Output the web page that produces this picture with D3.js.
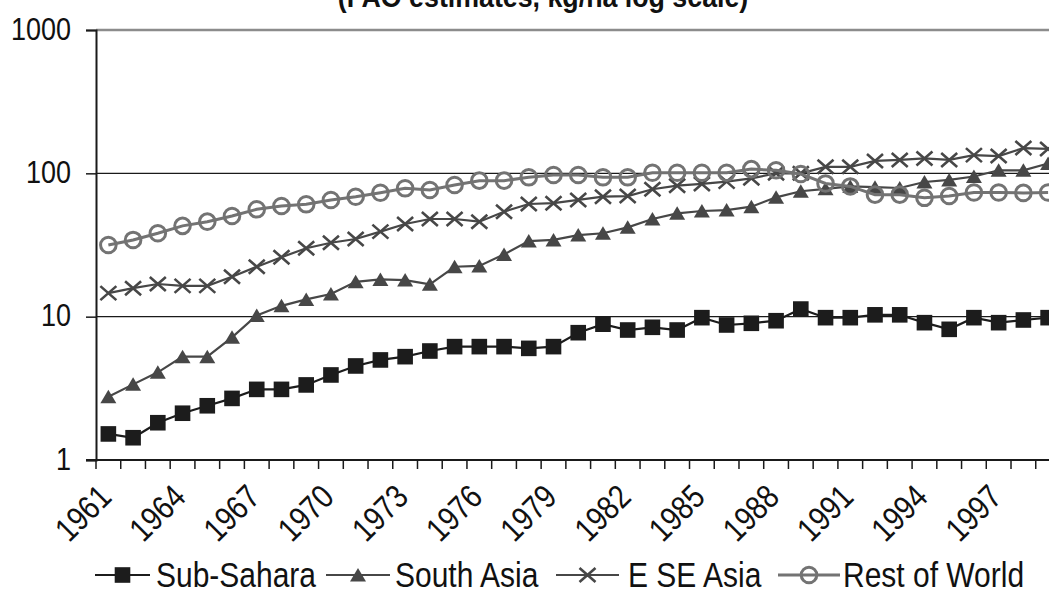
<!DOCTYPE html>
<html>
<head>
<meta charset="utf-8">
<script src="https://cdn.jsdelivr.net/npm/d3@7"></script>
<style>
  html, body { margin: 0; padding: 0; background: #fff; overflow: hidden; }
  svg { display: block; font-family: "Liberation Sans", Arial, sans-serif; }
</style>
</head>
<body>
<svg id="chart" width="1049" height="597"></svg>
<script>
// Cereal yields by region, 1961-1999 (FAO estimates, kg/ha, log scale)
const years = d3.range(1961, 2000);

const subSahara = [1.52, 1.43, 1.82, 2.12, 2.39, 2.69, 3.11, 3.11, 3.34, 3.92,
  4.53, 4.99, 5.26, 5.76, 6.18, 6.18, 6.18, 6.01, 6.18, 7.73,
  8.86, 8.07, 8.43, 8.07, 9.84, 8.75, 8.99, 9.37, 11.3, 9.84,
  9.84, 10.3, 10.3, 9.08, 8.16, 9.84, 9.08, 9.48, 9.84];

const southAsia = [2.76, 3.37, 4.09, 5.26, 5.26, 7.18, 10.2, 11.9, 13.2, 14.4,
  17.5, 18.2, 18.0, 16.8, 22.3, 22.6, 27.2, 33.7, 34.3, 37.1,
  38.2, 42.0, 48.0, 52.6, 54.6, 55.4, 58.5, 68.0, 75, 78,
  81, 80, 79, 87, 90, 95, 105, 105, 117];

const eseAsia = [14.6, 15.8, 16.9, 16.4, 16.4, 19.0, 22.3, 26.0, 30.0, 32.8,
  34.8, 39.2, 44.3, 48.0, 48.0, 46.0, 54.0, 61.1, 61.9, 65.2,
  68.7, 69.4, 77.4, 82.0, 84.3, 87.5, 92.3, 100, 100, 111,
  111, 122, 124, 127, 124, 134, 132, 150, 148];

const restOfWorld = [31.6, 34.3, 38.2, 43.0, 46.0, 50.4, 56.1, 59.2, 60.8, 65.2,
  68.7, 73.2, 78.6, 76.5, 82.9, 88.9, 88.9, 93.8, 97.3, 97.3,
  93.8, 93.8, 101, 101, 101, 101, 107, 105, 99, 85,
  81, 71, 71, 67.5, 69.5, 73.5, 73.5, 73, 73.5];

const seriesNames = ["Sub-Sahara", "South Asia", "E SE Asia", "Rest of World"];
const yTicks = [1, 10, 100, 1000];
const xTickYears = years.filter((d, i) => i % 3 === 0);

const series = [
  { name: seriesNames[0], values: subSahara, marker: "square", color: "#1c1c1c", width: 2.2 },
  { name: seriesNames[1], values: southAsia, marker: "triangle", color: "#474747", width: 2.2 },
  { name: seriesNames[2], values: eseAsia, marker: "cross", color: "#474747", width: 2.2 },
  { name: seriesNames[3], values: restOfWorld, marker: "circle", color: "#737373", width: 3 }
];

// text glyphs are drawn slightly tall
const STRETCH = "scale(0.97,1.15)";

const svg = d3.select("#chart");

const plot = { left: 96, top: 30, bottom: 460, step: 24.73 };
const x = d3.scaleBand()
  .domain(years)
  .range([plot.left, plot.left + plot.step * years.length])
  .paddingInner(0).paddingOuter(0);
const y = d3.scaleLog().domain([1, 1000]).range([plot.bottom, plot.top]);
const cx = d => x(d) + x.bandwidth() / 2;

// title (second line of a two-line heading, top clipped by the frame)
svg.append("text")
  .attr("transform", `translate(543,7) scale(1.03,1.1)`)
  .attr("text-anchor", "middle")
  .attr("font-weight", "bold")
  .attr("font-size", 26)
  .attr("fill", "#111")
  .text("(FAO estimates, kg/ha log scale)");

// horizontal gridlines
svg.append("g").selectAll("line")
  .data(yTicks.filter(v => v > 1))
  .join("line")
  .attr("x1", plot.left).attr("x2", x.range()[1])
  .attr("y1", d => y(d)).attr("y2", d => y(d))
  .attr("stroke", d => d === 1000 ? "#8c8c8c" : "#1a1a1a")
  .attr("stroke-width", d => d === 1000 ? 2.5 : 1.4);

// y axis
const yAxis = svg.append("g")
  .attr("transform", `translate(${plot.left},0)`)
  .call(d3.axisLeft(y).tickValues(yTicks).tickFormat(d3.format("d")).tickSize(10).tickPadding(0));
yAxis.select(".domain").attr("stroke", "#1a1a1a").attr("stroke-width", 2);
yAxis.selectAll(".tick line").attr("stroke", "#1a1a1a").attr("stroke-width", 1.5);
yAxis.selectAll(".tick text")
  .attr("font-size", 27)
  .attr("font-family", "Liberation Sans, Arial, sans-serif")
  .attr("fill", "#111")
  .attr("x", null).attr("dy", null)
  .attr("transform", `translate(-25,9) scale(1,1.15)`);

// x axis line and boundary ticks
const xg = svg.append("g");
xg.append("line")
  .attr("x1", plot.left - 10).attr("x2", x.range()[1])
  .attr("y1", plot.bottom).attr("y2", plot.bottom)
  .attr("stroke", "#1a1a1a").attr("stroke-width", 2);
xg.selectAll("line.bt")
  .data(years.concat([null]))
  .join("line")
  .attr("class", "bt")
  .attr("x1", d => d === null ? x.range()[1] : x(d))
  .attr("x2", d => d === null ? x.range()[1] : x(d))
  .attr("y1", plot.bottom).attr("y2", plot.bottom + 9)
  .attr("stroke", "#1a1a1a").attr("stroke-width", 1.5);

// rotated year labels
const xAxis = svg.append("g")
  .attr("transform", `translate(0,${plot.bottom})`)
  .call(d3.axisBottom(x).tickValues(xTickYears).tickSize(0).tickPadding(0));
xAxis.select(".domain").remove();
xAxis.selectAll(".tick text")
  .attr("font-size", 29)
  .attr("font-family", "Liberation Sans, Arial, sans-serif")
  .attr("fill", "#111")
  .attr("text-anchor", "end")
  .attr("dy", null)
  .attr("y", 0)
  .attr("transform", `translate(5,39) rotate(-45) ${STRETCH}`);

// marker drawing
function drawMarker(sel, type, color) {
  if (type === "square") {
    sel.append("rect").attr("x", -7.8).attr("y", -7.8).attr("width", 15.6).attr("height", 15.6)
      .attr("fill", color);
  } else if (type === "triangle") {
    sel.append("path").attr("d", "M0,-7 L8,6.5 L-8,6.5 Z").attr("fill", color);
  } else if (type === "cross") {
    sel.append("path").attr("d", "M-8,-7 L8,7 M-8,7 L8,-7")
      .attr("stroke", color).attr("stroke-width", 2.6).attr("fill", "none");
  } else if (type === "circle") {
    sel.append("circle").attr("r", 7.8).attr("fill", "none")
      .attr("stroke", color).attr("stroke-width", 3);
  }
}

const line = d3.line().x(d => cx(d.year)).y(d => y(d.value));

series.forEach(s => {
  const pts = years.map((yr, i) => ({ year: yr, value: s.values[i] }));
  const g = svg.append("g");
  g.append("path").datum(pts)
    .attr("d", line)
    .attr("fill", "none")
    .attr("stroke", s.color)
    .attr("stroke-width", s.width);
  g.selectAll("g.m").data(pts).join("g")
    .attr("class", "m")
    .attr("transform", d => `translate(${cx(d.year)},${y(d.value)})`)
    .each(function () { drawMarker(d3.select(this), s.marker, s.color); });
});

// legend
const legendItems = [
  { x1: 95, x2: 150, tx: 156 },
  { x1: 326, x2: 390, tx: 395 },
  { x1: 556, x2: 619, tx: 628 },
  { x1: 778, x2: 840, tx: 843 }
];
const ly = 575;
series.forEach((s, i) => {
  const it = legendItems[i];
  const g = svg.append("g");
  g.append("line").attr("x1", it.x1).attr("x2", it.x2).attr("y1", ly).attr("y2", ly)
    .attr("stroke", s.color).attr("stroke-width", s.width);
  const m = g.append("g").attr("transform", `translate(${(it.x1 + it.x2) / 2},${ly})`);
  drawMarker(m, s.marker, s.color);
  g.append("text")
    .attr("transform", `translate(${it.tx},${ly + 12}) scale(1,1.15)`)
    .attr("font-size", 30).attr("fill", "#111").text(s.name);
});
</script>
</body>
</html>
